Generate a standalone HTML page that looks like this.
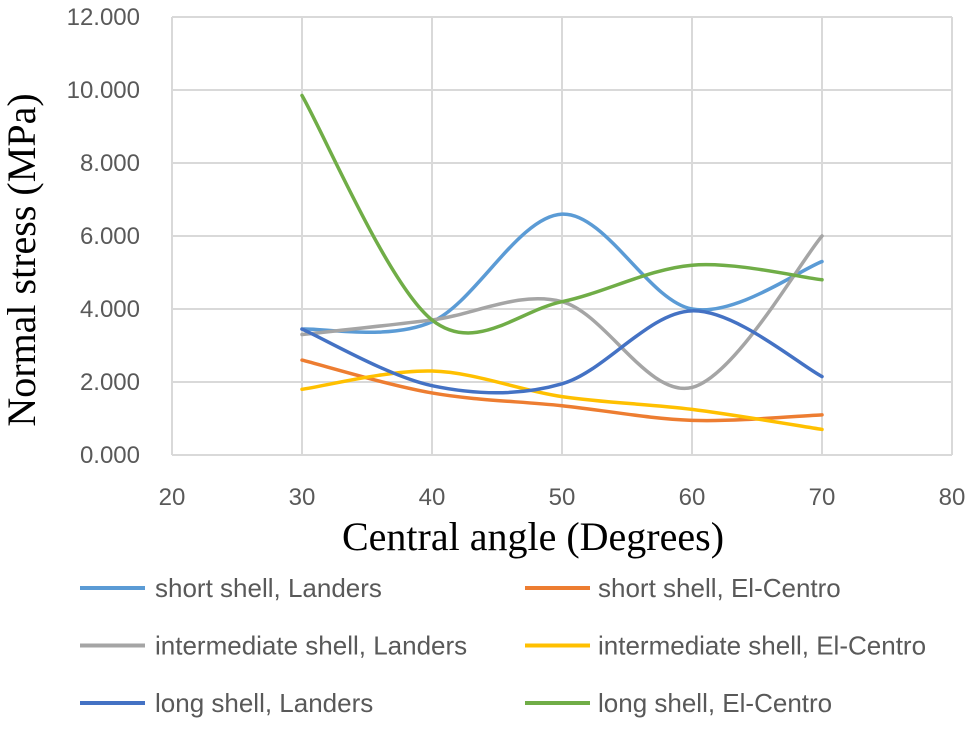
<!DOCTYPE html>
<html><head><meta charset="utf-8"><style>
body{margin:0;background:#fff;width:975px;height:726px;overflow:hidden}
svg text{font-family:"Liberation Sans",sans-serif}
</style></head><body>
<svg id="chart" width="975" height="726" xmlns="http://www.w3.org/2000/svg">
<g id="grid"></g>
<g id="ticks"></g>
<g id="series"></g>
<text x="26" y="260" transform="rotate(-90 26 260)" text-anchor="middle" dominant-baseline="middle" font-size="40" fill="#000" style="font-family:'Liberation Serif',serif">Normal stress (MPa)</text>
<text x="533" y="550" text-anchor="middle" font-size="40" fill="#000" style="font-family:'Liberation Serif',serif">Central angle (Degrees)</text>
<g id="legend"></g>
</svg>
<script>
const categories=[30,40,50,60,70];
const seriesNames=["short shell, Landers","short shell, El-Centro","intermediate shell, Landers","intermediate shell, El-Centro","long shell, Landers","long shell, El-Centro"];
const shortLanders=[3.45,3.65,6.6,4.0,5.3];
const shortElCentro=[2.6,1.7,1.35,0.95,1.1];
const interLanders=[3.3,3.7,4.2,1.85,6.0];
const interElCentro=[1.8,2.3,1.6,1.25,0.7];
const longLanders=[3.45,1.9,1.95,3.95,2.15];
const longElCentro=[9.85,3.7,4.2,5.2,4.8];
const xTicks=[20,30,40,50,60,70,80];
const yTicks=[0,2,4,6,8,10,12];
const colors=["#5b9bd5","#ed7d31","#a5a5a5","#ffc000","#4472c4","#70ad47"];
const allSeries=[shortLanders,shortElCentro,interLanders,interElCentro,longLanders,longElCentro];
const NS="http://www.w3.org/2000/svg";
const x=v=>172+(v-20)*13;
const y=v=>455-v*36.5;
function mk(tag,attrs,parent){const e=document.createElementNS(NS,tag);for(const k in attrs)e.setAttribute(k,attrs[k]);parent.appendChild(e);return e;}
const grid=document.getElementById('grid'),ticks=document.getElementById('ticks'),ser=document.getElementById('series'),leg=document.getElementById('legend');
xTicks.forEach(t=>{
 const l=mk('line',{x1:x(t),x2:x(t),y1:y(12),y2:y(0),stroke:'#d9d9d9','stroke-width':2},grid);
 
 
 const tx=mk('text',{x:x(t),y:y(0)+50,'text-anchor':'middle','font-size':24,fill:'#595959'},ticks);
 tx.textContent=t;
 
 
});
yTicks.forEach(t=>{
 const l=mk('line',{x1:x(20),x2:x(80),y1:y(t),y2:y(t),stroke:'#d9d9d9','stroke-width':2},grid);
 
 
 const tx=mk('text',{x:140,y:y(t)+8,'text-anchor':'end','font-size':24,fill:'#595959'},ticks);
 tx.textContent=t.toFixed(3);
 
 
});
allSeries.forEach((vals,i)=>{
 const p=vals.map((v,j)=>[x(categories[j]),y(v)]);
 let d=`M${p[0][0]},${p[0][1]}`;
 for(let j=0;j<p.length-1;j++){
  const p0=p[j-1]||p[j],p1=p[j],p2=p[j+1],p3=p[j+2]||p[j+1];
  const c1=[p1[0]+(p2[0]-p0[0])/6,p1[1]+(p2[1]-p0[1])/6];
  const c2=[p2[0]-(p3[0]-p1[0])/6,p2[1]-(p3[1]-p1[1])/6];
  d+=` C${c1[0]},${c1[1]} ${c2[0]},${c2[1]} ${p2[0]},${p2[1]}`;
 }
 const path=mk('path',{d:d,fill:'none',stroke:colors[i],'stroke-width':3.5,'stroke-linecap':'round'},ser);
 
 
 const col=i%2,row=Math.floor(i/2);
 const lx=col?525:80,ty=col?598:155,ly=588+row*57.5;
 const ll=mk('line',{x1:lx,x2:lx+65,y1:ly,y2:ly,stroke:colors[i],'stroke-width':4},leg);
 
 
 const lt=mk('text',{x:ty,y:ly+9,'font-size':26,fill:'#595959'},leg);
 lt.textContent=seriesNames[i];
 
 
});
</script>
</body></html>
